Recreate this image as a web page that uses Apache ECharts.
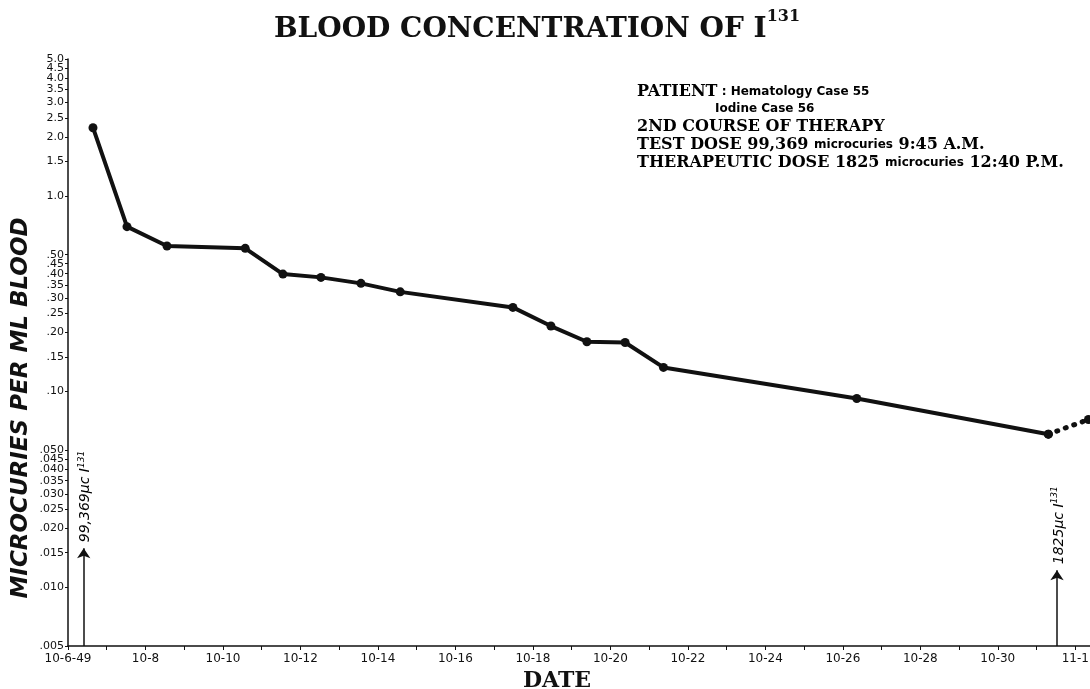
<!DOCTYPE html>
<html>
<head>
<meta charset="utf-8">
<title>Blood concentration of I131</title>
<script src="https://cdn.jsdelivr.net/npm/echarts@6/dist/echarts.min.js"></script>
<style>
  html, body { margin: 0; padding: 0; background: #fff; }
  #main { width: 1090px; height: 689px; }
</style>
</head>
<body>
<div id="main"></div>
<script>
// days counted from 10-6-49 00:00
var sampleDays = [0.645, 1.523, 2.555, 4.575, 5.548, 6.529, 7.561, 8.576, 11.484, 12.465, 13.394, 14.381, 15.37, 20.36, 25.305];
// microcuries per ml blood
var sampleValues = [2.23, 0.696, 0.554, 0.539, 0.398, 0.383, 0.357, 0.323, 0.269, 0.216, 0.1795, 0.178, 0.1327, 0.0921, 0.0605];
// dotted part after the therapeutic dose
var afterDays = [25.305, 26.34];
var afterValues = [0.0605, 0.0719];

// doses: test dose 10-6 9:45 A.M., therapeutic dose 10-31 12:40 P.M.
var doseDays = [0.406, 25.528];
var doseArrowTop = [0.0158, 0.0122];
var doseLabels = ["99,369\u03bcc I", "1825\u03bcc I"];

var yTicks = [0.005, 0.010, 0.015, 0.020, 0.025, 0.030, 0.035, 0.040, 0.045, 0.050,
  0.10, 0.15, 0.20, 0.25, 0.30, 0.35, 0.40, 0.45, 0.50,
  1.0, 1.5, 2.0, 2.5, 3.0, 3.5, 4.0, 4.5, 5.0];
var yLabels = [".005", ".010", ".015", ".020", ".025", ".030", ".035", ".040", ".045", ".050",
  ".10", ".15", ".20", ".25", ".30", ".35", ".40", ".45", ".50",
  "1.0", "1.5", "2.0", "2.5", "3.0", "3.5", "4.0", "4.5", "5.0"];

var xLabelDays = [0, 2, 4, 6, 8, 10, 12, 14, 16, 18, 20, 22, 24, 26];
var xLabels = ["10-6-49", "10-8", "10-10", "10-12", "10-14", "10-16", "10-18", "10-20",
  "10-22", "10-24", "10-26", "10-28", "10-30", "11-1"];
var xTickDays = [];
for (var d = 0; d <= 26; d++) xTickDays.push(d);

// the paper is semi-log: plot log10 of the value on a plain value axis
function lg(v) { return Math.log10(v); }
function pairs(xs, vs) {
  var out = [];
  for (var i = 0; i < xs.length; i++) out.push([xs[i], lg(vs[i])]);
  return out;
}

// top of the axis sits just above 5.0; an empty label there takes the
// "max label" slot so echarts does not drop 4.5 next to 5.0
var yTop = lg(5) + 0.0005;
var yTickPos = yTicks.map(lg).concat([yTop]);

var ink = "#111";
var chart = echarts.init(document.getElementById("main"), null, { renderer: "canvas" });

var option = {
  backgroundColor: "#fff",
  animation: false,
  title: {
    text: "{t|BLOOD CONCENTRATION OF I}{s|131}",
    left: 532,
    top: 4,
    textAlign: "center",
    textStyle: {
      rich: {
        t: { fontFamily: "DejaVu Serif", fontWeight: "bold", fontSize: 28, color: ink, lineHeight: 42 },
        s: { fontFamily: "DejaVu Serif", fontWeight: "bold", fontSize: 16, color: ink, lineHeight: 17, verticalAlign: "top" }
      }
    }
  },
  grid: { left: 68, right: 0, top: 59, bottom: 43, outerBoundsMode: "none" },
  xAxis: {
    type: "value",
    min: 0,
    max: 26.38,
    name: "DATE",
    nameLocation: "middle",
    nameGap: 20,
    nameTextStyle: { fontFamily: "DejaVu Serif", fontWeight: "bold", fontSize: 22, color: ink, padding: [0, 44, 0, 0] },
    splitLine: { show: false },
    axisLine: { onZero: false, lineStyle: { color: ink, width: 1.5 } },
    axisTick: { customValues: xTickDays, length: 4, lineStyle: { color: ink } },
    axisLabel: {
      customValues: xLabelDays,
      showMinLabel: true,
      showMaxLabel: true,
      margin: 7,
      fontFamily: "DejaVu Sans",
      fontSize: 12,
      color: ink,
      formatter: function (v) {
        var i = xLabelDays.indexOf(Math.round(v));
        return i < 0 ? "" : xLabels[i];
      }
    }
  },
  yAxis: {
    type: "value",
    min: lg(0.005),
    max: yTop,
    splitLine: { show: false },
    axisLine: { show: true, onZero: false, lineStyle: { color: ink, width: 1.5 } },
    axisTick: { customValues: yTickPos, length: 3, lineStyle: { color: ink } },
    axisLabel: {
      customValues: yTickPos,
      showMinLabel: true,
      showMaxLabel: false,
      hideOverlap: false,
      margin: 4,
      fontFamily: "DejaVu Sans",
      fontSize: 11,
      color: ink,
      formatter: function (v) {
        for (var i = 0; i < yTicks.length; i++) {
          if (Math.abs(lg(yTicks[i]) - v) < 1e-6) return yLabels[i];
        }
        return "";
      }
    }
  },
  series: [
    {
      name: "blood",
      type: "line",
      data: pairs(sampleDays, sampleValues),
      symbol: "circle",
      symbolSize: 9,
      itemStyle: { color: ink },
      lineStyle: { color: ink, width: 4 },
      markLine: {
        silent: true,
        symbol: ["none", "arrow"],
        symbolSize: 10,
        label: { show: false },
        lineStyle: { color: ink, width: 1.5, type: "solid" },
        data: doseDays.map(function (x, i) {
          return [{ coord: [x, lg(0.005)] }, { coord: [x, lg(doseArrowTop[i])] }];
        })
      }
    },
    {
      name: "after",
      type: "line",
      data: pairs(afterDays, afterValues),
      symbol: "circle",
      symbolSize: 9,
      showAllSymbol: true,
      itemStyle: { color: ink },
      lineStyle: { color: ink, width: 5, type: [1, 8], cap: "round" }
    }
  ]
};
chart.setOption(option);

// texts placed next to the chart, dose labels follow the arrows
var graphics = [
  {
    type: "text",
    x: 21,
    y: 408,
    rotation: Math.PI / 2,
    style: {
      text: "MICROCURIES PER ML BLOOD",
      fontFamily: "DejaVu Sans",
      fontWeight: "bold",
      fontStyle: "italic",
      fontSize: 23,
      fill: ink,
      textAlign: "center",
      textVerticalAlign: "middle"
    }
  }
];

var noteRich = {
  c: { fontFamily: "DejaVu Serif", fontSize: 16, fontWeight: "bold", color: ink },
  l: { fontFamily: "DejaVu Sans", fontSize: 12, fontWeight: "bold", color: ink }
};
var noteLines = [
  { x: 637, y: 92, text: "{c|PATIENT}{l| : Hematology Case 55}" },
  { x: 715, y: 109, text: "{l|Iodine Case 56}" },
  { x: 637, y: 127, text: "{c|2ND COURSE OF THERAPY}" },
  { x: 637, y: 145, text: "{c|TEST DOSE 99,369 }{l|microcuries}{c| 9:45 A.M.}" },
  { x: 637, y: 163, text: "{c|THERAPEUTIC DOSE 1825 }{l|microcuries}{c| 12:40 P.M.}" }
];
noteLines.forEach(function (n) {
  graphics.push({
    type: "text",
    x: n.x,
    y: n.y,
    style: { text: n.text, rich: noteRich, textVerticalAlign: "middle", textAlign: "left" }
  });
});

doseDays.forEach(function (x, i) {
  var p = chart.convertToPixel({ gridIndex: 0 }, [x, lg(doseArrowTop[i])]);
  graphics.push({
    type: "text",
    x: p[0] + 2,
    y: p[1] - 6,
    rotation: Math.PI / 2,
    style: {
      text: "{a|" + doseLabels[i] + "}{s|131}",
      textAlign: "left",
      textVerticalAlign: "middle",
      rich: {
        a: { fontFamily: "DejaVu Sans", fontStyle: "italic", fontSize: 14, color: ink, lineHeight: 18 },
        s: { fontFamily: "DejaVu Sans", fontStyle: "italic", fontSize: 9, color: ink, lineHeight: 10, verticalAlign: "top" }
      }
    }
  });
});

chart.setOption({ graphic: graphics });
</script>
</body>
</html>
